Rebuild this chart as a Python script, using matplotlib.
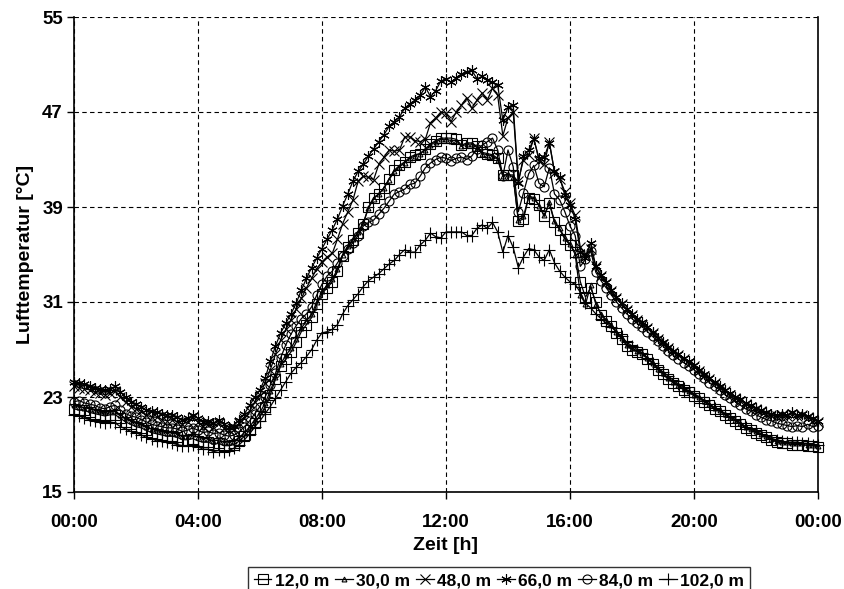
import numpy as np
import matplotlib
matplotlib.use("Agg")
import matplotlib.pyplot as plt

plt.rcParams['font.family'] = ['Liberation Sans', 'DejaVu Sans']
plt.rcParams['font.weight'] = 'bold'

# time axis: 10-minute steps over one day (hours)
hours = np.arange(0, 24 * 60 + 1, 10) / 60.0

x_ticks = [0, 4, 8, 12, 16, 20, 24]
x_ticklabels = ["00:00", "04:00", "08:00", "12:00", "16:00", "20:00", "00:00"]
y_ticks = [15, 23, 31, 39, 47, 55]

labels = ["12,0 m", "30,0 m", "48,0 m", "66,0 m", "84,0 m", "102,0 m"]

t_12m = [
    22.0, 21.9, 21.9, 21.7, 21.6, 21.5,
    21.4, 21.5, 21.5, 21.2, 20.9, 20.7,
    20.5, 20.4, 20.2, 20.0, 19.9, 19.8,
    19.7, 19.7, 19.6, 19.4, 19.4, 19.5,
    19.3, 19.2, 19.2, 19.0, 19.1, 18.9,
    18.9, 19.0, 19.3, 19.7, 20.2, 20.8,
    21.4, 22.2, 23.2, 24.5, 25.6, 26.2,
    26.8, 27.6, 28.5, 29.1, 29.7, 30.8,
    31.7, 32.2, 32.7, 33.6, 34.9, 35.6,
    36.2, 36.8, 37.6, 39.0, 39.8, 40.1,
    40.6, 41.4, 42.1, 42.5, 42.8, 43.2,
    43.4, 43.5, 43.9, 44.3, 44.6, 44.8,
    44.8, 44.8, 44.7, 44.2, 44.4, 44.4,
    44.1, 43.6, 43.5, 43.4, 43.1, 41.7,
    41.7, 41.7, 37.8, 38.0, 39.8, 39.7,
    39.2, 38.2, 39.3, 37.7, 37.1, 36.3,
    35.8, 35.2, 32.7, 31.4, 32.2, 31.0,
    29.9, 29.4, 29.0, 28.4, 27.9, 27.3,
    27.0, 26.8, 26.6, 26.2, 25.8, 25.3,
    24.9, 24.5, 24.2, 23.9, 23.6, 23.4,
    23.1, 22.9, 22.6, 22.3, 22.0, 21.8,
    21.5, 21.2, 21.0, 20.7, 20.4, 20.2,
    20.0, 19.8, 19.6, 19.4, 19.2, 19.1,
    19.1, 19.0, 19.0, 19.0, 18.9, 18.9,
    18.8,
]

t_30m = [
    22.3, 22.2, 22.1, 22.0, 21.9, 21.8,
    21.7, 21.8, 21.8, 21.5, 21.2, 21.0,
    20.8, 20.7, 20.5, 20.3, 20.2, 20.1,
    20.0, 20.0, 19.9, 19.7, 19.7, 19.9,
    19.6, 19.5, 19.5, 19.3, 19.4, 19.2,
    19.2, 19.3, 19.6, 20.0, 20.5, 21.1,
    21.7, 22.5, 23.5, 24.7, 25.8, 26.5,
    27.1, 27.9, 28.8, 29.4, 30.0, 31.0,
    31.9, 32.4, 32.9, 33.8, 35.0, 35.7,
    36.3, 36.9, 37.7, 38.9, 39.7, 40.1,
    40.6, 41.3, 42.0, 42.4, 42.7, 43.1,
    43.3, 43.5, 43.8, 44.2, 44.5, 44.7,
    44.7, 44.6, 44.6, 44.1, 44.3, 44.3,
    44.0, 43.5, 43.4, 43.3, 43.0, 41.6,
    41.8, 41.5, 37.9, 38.2, 39.9, 39.8,
    39.1, 38.3, 39.4, 37.8, 37.2, 36.4,
    35.9, 35.0, 31.6, 30.8, 32.4, 30.8,
    30.0, 29.5, 29.1, 28.5, 28.0, 27.4,
    27.1, 26.9, 26.7, 26.3, 25.9, 25.4,
    25.0, 24.6, 24.3, 24.0, 23.7, 23.5,
    23.2, 23.0, 22.7, 22.4, 22.1, 21.9,
    21.6, 21.3, 21.1, 20.8, 20.5, 20.3,
    20.1, 19.9, 19.7, 19.5, 19.3, 19.2,
    19.2, 19.1, 19.1, 19.1, 19.0, 19.0,
    18.9,
]

t_48m = [
    23.9, 23.8, 23.7, 23.6, 23.4, 23.3,
    23.2, 23.3, 23.5, 23.0, 22.6, 22.2,
    22.0, 21.8, 21.5, 21.3, 21.3, 21.1,
    21.0, 21.1, 20.9, 20.7, 20.9, 21.3,
    20.9, 20.6, 20.7, 20.5, 20.8, 20.4,
    20.2, 20.3, 20.8, 21.2, 21.8, 22.6,
    23.2, 24.2, 25.3, 26.6, 27.8, 28.7,
    29.5, 30.4, 31.3, 32.2, 33.0, 33.8,
    34.4, 34.8, 35.1, 36.3, 37.6, 38.6,
    39.6, 41.2, 41.6, 41.5, 41.3, 42.6,
    43.2, 43.8, 43.7, 43.8, 44.9, 44.9,
    44.6, 44.5, 44.7, 46.1, 46.5, 47.0,
    46.9, 46.2, 47.0, 47.6, 48.2, 47.3,
    48.0, 48.6, 48.0, 49.0, 48.4, 45.0,
    46.5, 47.0, 41.2, 43.0, 43.4, 44.8,
    42.9, 42.6, 44.5, 41.9, 41.4, 40.3,
    39.3, 38.3, 35.6, 35.0, 35.5, 34.0,
    33.2, 32.6, 31.9, 31.3, 30.8, 30.3,
    29.9, 29.5, 29.1, 28.8, 28.4, 27.9,
    27.5, 27.1, 26.8, 26.5, 26.2, 25.9,
    25.6, 25.2, 24.8, 24.5, 24.2, 23.8,
    23.5, 23.2, 22.9, 22.7, 22.4, 22.2,
    22.0, 21.8, 21.6, 21.5, 21.4, 21.5,
    21.4, 21.6, 21.4, 21.5, 21.3, 21.1,
    20.9,
]

t_66m = [
    24.3, 24.2, 24.1, 23.9, 23.8, 23.7,
    23.6, 23.7, 23.9, 23.4, 23.0, 22.6,
    22.4, 22.2, 21.9, 21.8, 21.7, 21.6,
    21.5, 21.5, 21.3, 21.1, 21.2, 21.5,
    21.2, 20.9, 21.0, 20.8, 21.1, 20.7,
    20.5, 20.6, 21.1, 21.6, 22.3, 23.0,
    23.6, 24.6, 26.0, 27.3, 28.4, 29.2,
    30.0, 30.9, 32.0, 33.0, 33.9, 34.7,
    35.5, 36.3, 37.1, 38.0, 39.1, 40.1,
    41.2, 42.0, 42.6, 43.3, 43.9, 44.5,
    45.1, 45.8, 46.2, 46.6, 47.3, 47.7,
    48.0, 48.4, 49.1, 48.3, 48.8, 49.6,
    49.8, 49.5, 49.9, 50.2, 50.4, 50.5,
    49.8, 50.0, 49.7, 49.5, 49.3, 46.3,
    47.4, 47.6, 41.0, 43.3, 43.8, 44.7,
    43.1, 43.2, 44.4, 42.0, 41.5, 40.0,
    39.2, 38.0, 35.2, 34.7, 36.0, 34.0,
    33.3, 32.7, 32.0, 31.4, 30.9, 30.4,
    30.0, 29.6, 29.3, 28.9, 28.5, 28.0,
    27.6, 27.2, 26.9, 26.6, 26.3, 26.0,
    25.7, 25.3, 24.9, 24.6, 24.3, 23.9,
    23.6, 23.3, 23.0, 22.8, 22.5, 22.3,
    22.1, 21.9, 21.7, 21.6, 21.5, 21.6,
    21.5, 21.7, 21.5, 21.6, 21.4, 21.2,
    21.0,
]

t_84m = [
    22.6, 22.7, 22.5, 22.4, 22.3, 22.1,
    22.0, 22.2, 22.3, 21.9, 21.6, 21.4,
    21.3, 21.1, 20.9, 20.7, 20.6, 20.5,
    20.4, 20.4, 20.3, 20.1, 20.2, 20.4,
    20.2, 20.0, 20.1, 19.9, 20.0, 19.8,
    19.7, 19.8, 20.1, 20.5, 21.0, 21.6,
    22.2, 23.0, 24.0, 25.0, 26.3, 27.4,
    28.3, 29.0, 29.6, 30.0, 30.6, 31.6,
    32.5, 33.2, 33.6, 34.3, 34.9, 35.5,
    36.0, 36.6, 37.4, 37.7, 37.9, 38.4,
    38.9, 39.5, 40.1, 40.3, 40.5, 40.9,
    41.0, 41.6, 42.3, 42.7, 43.0, 43.2,
    43.1, 42.9, 43.1, 43.2, 43.0, 43.3,
    43.9, 44.2, 44.5, 44.8, 43.8, 41.6,
    43.8, 42.4, 38.6, 40.2, 41.8, 42.5,
    41.0, 40.7, 42.3, 40.1, 39.6, 38.6,
    37.4, 36.6, 34.0, 34.6, 35.3, 33.5,
    32.8, 32.2, 31.6, 31.0, 30.5, 30.0,
    29.6, 29.2, 28.9, 28.5, 28.1, 27.7,
    27.3, 26.9, 26.5, 26.2, 25.9, 25.6,
    25.3, 24.9, 24.6, 24.2, 23.9, 23.6,
    23.2, 22.9, 22.6, 22.3, 22.0, 21.8,
    21.5, 21.3, 21.1, 21.0, 20.8, 20.7,
    20.6, 20.5, 20.6, 20.5, 20.7, 20.5,
    20.6,
]

t_102m = [
    21.5, 21.4, 21.2, 21.1, 21.0, 20.9,
    20.8, 20.9, 20.8, 20.5, 20.3, 20.1,
    20.0, 19.8, 19.6, 19.5, 19.3, 19.3,
    19.2, 19.1, 19.0, 18.9, 18.9, 19.0,
    18.8, 18.6, 18.6, 18.4, 18.5, 18.4,
    18.5, 18.7, 19.0, 19.4, 19.9, 20.5,
    21.0, 21.6, 22.2, 22.9, 23.6, 24.3,
    25.0, 25.5, 25.9, 26.4, 27.0, 27.8,
    28.4, 28.5, 28.7, 29.1, 30.0, 30.7,
    31.2, 31.7, 32.3, 32.8, 33.1, 33.4,
    33.8, 34.2, 34.5, 35.0, 35.4, 35.2,
    35.2, 35.8, 36.2, 36.8, 36.5, 36.4,
    36.9, 36.9, 36.9, 36.9, 36.6, 36.6,
    37.2, 37.5, 37.2, 37.7, 36.9, 35.2,
    36.6, 35.6, 33.9, 34.8, 35.5, 35.4,
    34.8, 34.5, 35.4, 34.3, 33.6, 33.1,
    32.7, 32.5, 31.8, 30.9, 30.5, 30.0,
    29.6, 29.2, 28.9, 28.5, 28.1, 27.6,
    27.3, 27.0, 26.7, 26.3, 25.9, 25.5,
    25.1, 24.8, 24.4, 24.1, 23.8, 23.5,
    23.3, 23.0, 22.7, 22.4, 22.1, 21.9,
    21.6, 21.3, 21.1, 20.8, 20.5, 20.3,
    20.1, 19.9, 19.7, 19.5, 19.4, 19.3,
    19.2, 19.2, 19.2, 19.1, 19.1, 19.0,
    19.0,
]

series = [t_12m, t_30m, t_48m, t_66m, t_84m, t_102m]
markers = ['s', '^', 'x', (6, 2, 0), 'o', '+']
msizes = [6.5, 3.5, 6.5, 7.5, 6.5, 8]

fig = plt.figure(figsize=(8.45, 5.89), dpi=100)
ax = fig.add_axes([74 / 845, 1 - 492 / 589, (818 - 74) / 845, (492 - 17) / 589])

for vals, lab, mk, ms in zip(series, labels, markers, msizes):
    ax.plot(hours, vals, color='black', lw=0.9, marker=mk, markersize=ms,
            markerfacecolor='none', markeredgecolor='black', markeredgewidth=0.8,
            label=lab, clip_on=False)

ax.set_xlim(0, 24)
ax.set_ylim(15, 55)
ax.set_xticks(x_ticks)
ax.set_xticklabels(x_ticklabels)
ax.set_yticks(y_ticks)
ax.tick_params(axis='both', direction='out', length=5, width=1, labelsize=13.5, pad=3)
for lbl in ax.get_xticklabels() + ax.get_yticklabels():
    lbl.set_fontweight('bold')
ax.tick_params(axis='x', pad=11)

ax.grid(True, color='black', linestyle=(0, (4, 3)), linewidth=0.8)
ax.spines['top'].set_visible(False)
for s in ['left', 'bottom', 'right']:
    ax.spines[s].set_linewidth(1.2)

ax.set_xlabel('Zeit [h]', fontsize=14, fontweight='bold', labelpad=4)
ax.set_ylabel('Lufttemperatur [°C]', fontsize=14, fontweight='bold', labelpad=6)

leg = fig.legend(loc='upper center', bbox_to_anchor=(499 / 845, 1 - 567 / 589),
                 ncol=6, frameon=True, fancybox=False, edgecolor='black',
                 fontsize=12.5, handlelength=1.0, handletextpad=0.2,
                 columnspacing=0.35, borderpad=0.35, borderaxespad=0)
leg.get_frame().set_linewidth(1.0)
for t in leg.get_texts():
    t.set_fontweight('bold')

fig.savefig('out.png', dpi=100)
